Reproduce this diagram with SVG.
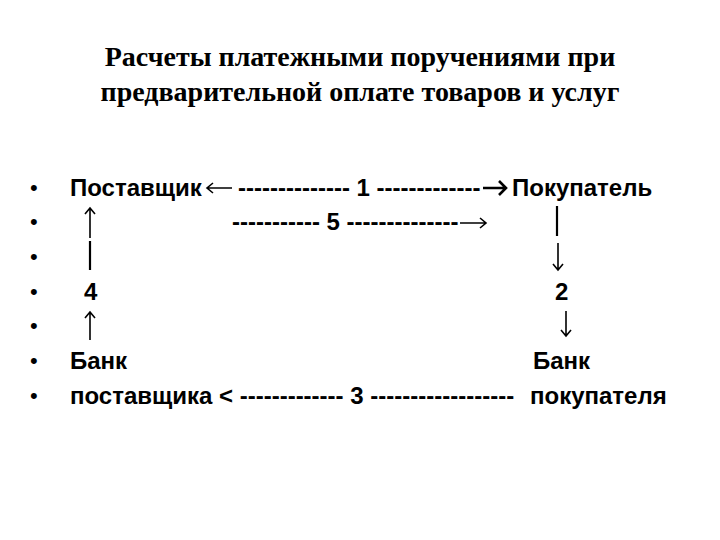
<svg xmlns="http://www.w3.org/2000/svg" width="720" height="540" viewBox="0 0 720 540">
<style>
.t{font-family:"Liberation Serif","Times New Roman",serif;font-weight:bold;font-size:28px;fill:#000}
.b{font-family:"Liberation Sans",Arial,sans-serif;font-weight:bold;font-size:24px;fill:#000}
.bul{font-family:"Liberation Sans",Arial,sans-serif;font-size:22px;fill:#000}
.ar{fill:none;stroke:#000;stroke-width:1.6;stroke-linecap:butt;stroke-linejoin:miter}
.arb{fill:none;stroke:#000;stroke-width:2.6;stroke-linejoin:miter}
.bar{stroke:#000;stroke-width:2.2}
</style>
<rect width="720" height="540" fill="#fff"/>
<g id="title">
<text class="t" x="360" y="66" text-anchor="middle">Расчеты платежными поручениями при</text>
<text class="t" x="360" y="101" text-anchor="middle">предварительной оплате товаров и услуг</text>
</g>
<g id="bullets">
<text class="bul" x="30" y="195">•</text>
<text class="bul" x="30" y="229">•</text>
<text class="bul" x="30" y="264">•</text>
<text class="bul" x="30" y="299">•</text>
<text class="bul" x="30" y="333">•</text>
<text class="bul" x="30" y="368">•</text>
<text class="bul" x="30" y="403">•</text>
</g>
<g id="supplier"><text class="b" x="70" y="196">Поставщик</text></g>
<g id="buyer"><text class="b" x="512" y="196">Покупатель</text></g>
<g id="bank-supplier"><text class="b" x="70" y="369">Банк</text><text class="b" x="70" y="404">поставщика</text></g>
<g id="bank-buyer"><text class="b" x="533" y="369">Банк</text><text class="b" x="530" y="404">покупателя</text></g>
<g id="connectors">
<!-- row 1 -->
<path class="ar" d="M232,188 H207 M213,183 L207,188 L213,193"/>
<text class="b" x="238" y="196" xml:space="preserve">-------------- 1 -------------</text>
<path class="arb" d="M483,188 H506 M499,181 L506,188 L499,195"/>
<!-- row 2 -->
<path class="ar" d="M90,238 V208 M85,214 L90,208 L95,214"/>
<text class="b" x="232" y="230" xml:space="preserve">----------- 5 --------------</text>
<path class="ar" d="M460,223 H486 M480,218 L486,223 L480,228"/>
<line class="bar" x1="557" y1="206" x2="557" y2="236"/>
<!-- row 3 -->
<line class="bar" x1="90" y1="241" x2="90" y2="270"/>
<path class="ar" d="M558,243 V270 M553,264 L558,270 L563,264"/>
<!-- row 4 -->
<text class="b" x="84" y="300">4</text>
<text class="b" x="555" y="300">2</text>
<!-- row 5 -->
<path class="ar" d="M90,340 V312 M85,318 L90,312 L95,318"/>
<path class="ar" d="M566,311 V336 M561,330 L566,336 L571,330"/>
<!-- row 7 -->
<text class="b" x="219" y="404" xml:space="preserve">&lt; ------------- 3 ------------------</text>
</g>
</svg>
